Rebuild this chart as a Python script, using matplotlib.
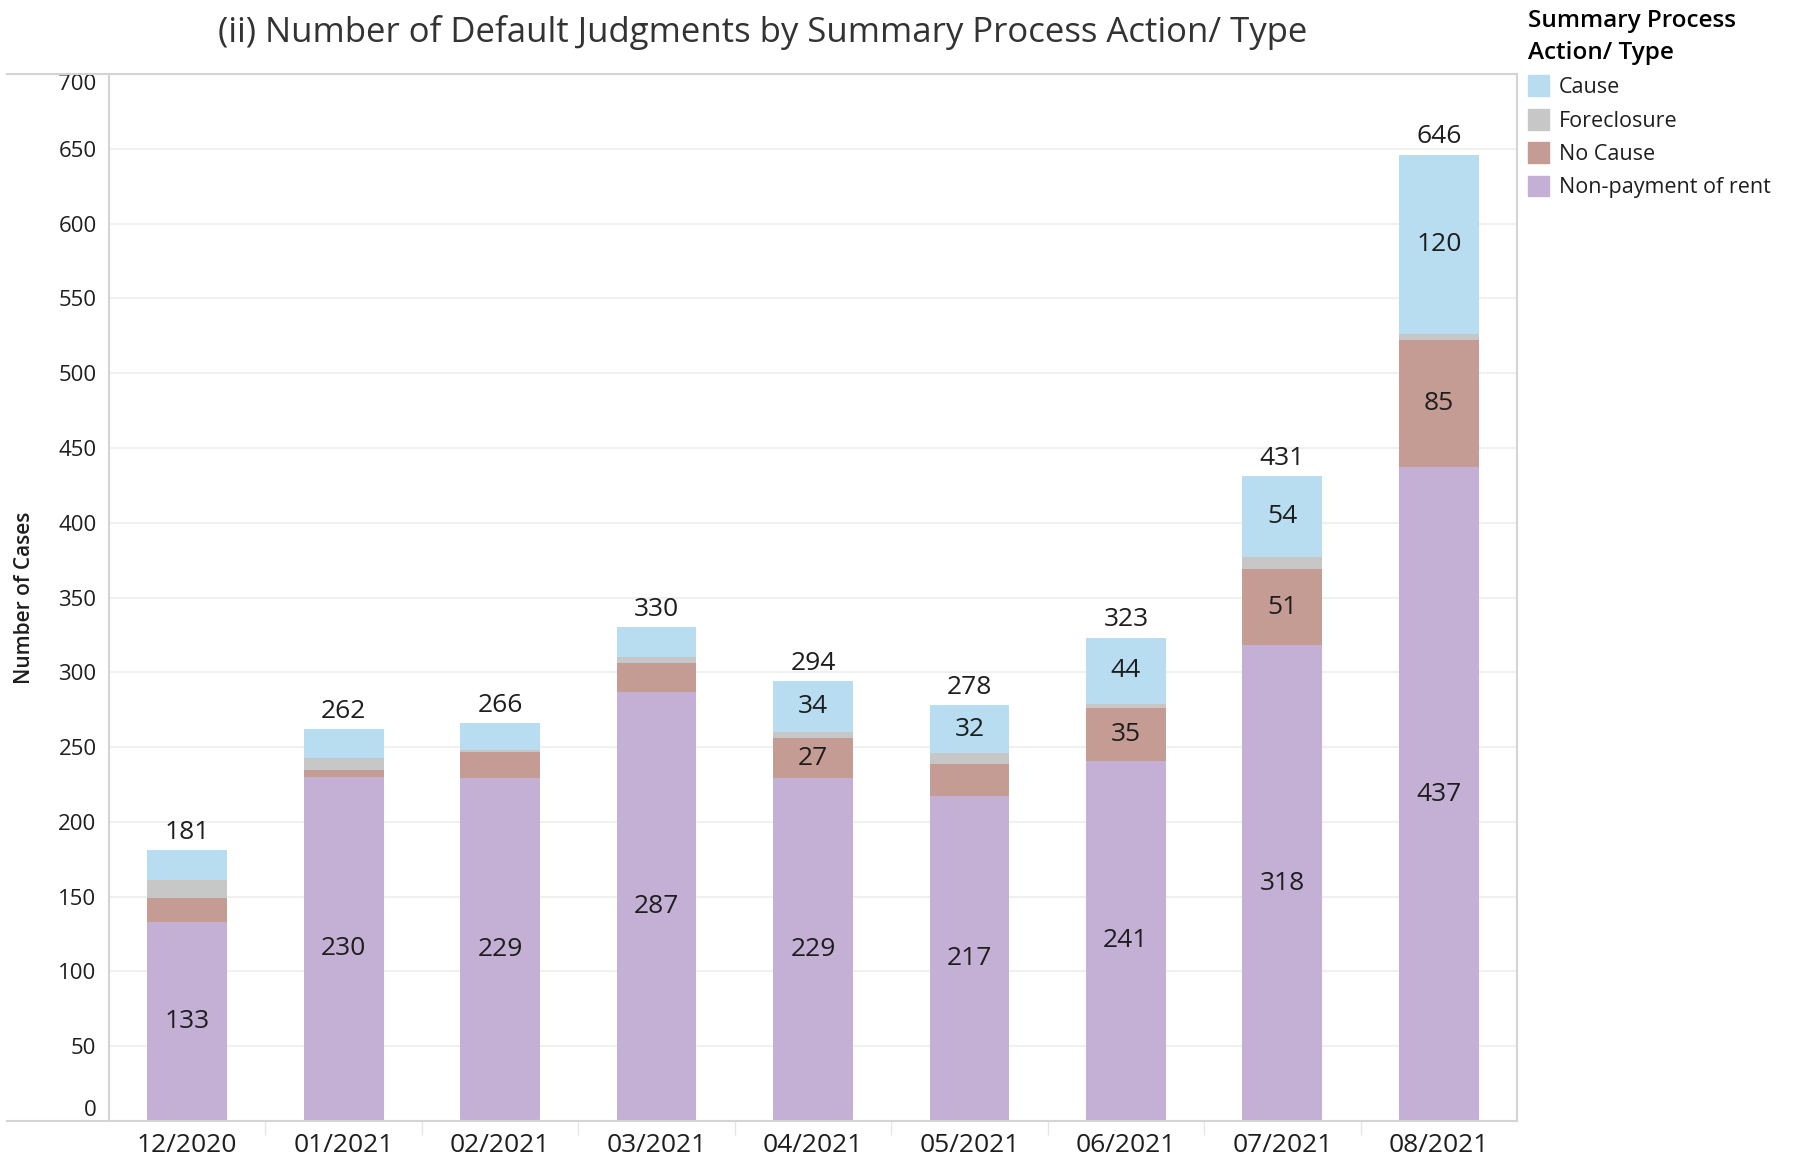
import matplotlib
matplotlib.use("Agg")
import matplotlib.pyplot as plt
from matplotlib.lines import Line2D
from matplotlib.patches import Patch
import numpy as np

months = ["12/2020", "01/2021", "02/2021", "03/2021", "04/2021",
          "05/2021", "06/2021", "07/2021", "08/2021"]

non_payment = [133, 230, 229, 287, 229, 217, 241, 318, 437]
no_cause = [16, 5, 18, 19, 27, 22, 35, 51, 85]
foreclosure = [12, 8, 1, 4, 4, 7, 3, 8, 4]
cause = [20, 19, 18, 20, 34, 32, 44, 54, 120]

series = [
	("Non-payment of rent", non_payment, "#C5B0D5"),
	("No Cause", no_cause, "#C49C94"),
	("Foreclosure", foreclosure, "#C7C7C7"),
	("Cause", cause, "#B8DDF0"),
]

plt.rcParams['font.family'] = ['Open Sans', 'DejaVu Sans']
txt = "#1E1E1E"
frame = "#D4D4D4"

W, H = 1800, 1163
fig = plt.figure(figsize=(W / 100, H / 100), dpi=100)
ax = fig.add_axes([109 / W, 1 - 1121 / H, (1517 - 109) / W, (1121 - 74) / H])

x = np.arange(len(months))
bottom = np.zeros(len(months))
for name, vals, color in series:
	vals = np.array(vals, dtype=float)
	ax.bar(x, vals, width=0.51, bottom=bottom, color=color, zorder=2)
	if name != "Foreclosure":
		for xi, b, v in zip(x, bottom, vals):
			if v >= 25:
				ax.text(xi, b + v / 2, f"{int(v)}", ha="center", va="center",
						fontsize=19, color=txt, zorder=3)
	bottom += vals

for xi, tot in zip(x, bottom):
	ax.annotate(f"{int(tot)}", (xi, tot), xytext=(0, 4), textcoords="offset points",
				ha="center", va="bottom", fontsize=19, color=txt)

ax.set_xlim(-0.5, len(months) - 0.5)
ax.set_ylim(0, 700)
ax.set_yticks(np.arange(0, 701, 50))
ax.set_xticks(x)
ax.set_xticklabels(months)
ax.set_xticks(np.arange(0.5, len(months) - 1, 1), minor=True)
ax.tick_params(axis="x", which="major", length=0, labelsize=19, labelcolor=txt, pad=9)
ax.tick_params(axis="x", which="minor", length=10, color="#E6E6E6", width=1)
ax.tick_params(axis="y", length=0, labelsize=16, labelcolor=txt, pad=9)
ylabels = ax.get_yticklabels()
ylabels[0].set_va("bottom")
ylabels[-1].set_va("top")

ax.grid(axis="y", color="#F0F0F0", linewidth=1.5, zorder=0)
ax.set_axisbelow(True)
for s in ["top", "bottom"]:
	ax.spines[s].set_visible(False)
ax.spines["left"].set_color(frame)
ax.spines["right"].set_color(frame)
ax.spines["left"].set_linewidth(1.5)
ax.spines["right"].set_linewidth(1.5)

# frame lines that run out to the left edge
fig.add_artist(Line2D([7 / W, 1517 / W], [1 - 74 / H, 1 - 74 / H], color=frame, lw=1.5))
fig.add_artist(Line2D([7 / W, 1517 / W], [1 - 1121 / H, 1 - 1121 / H], color=frame, lw=1.5))

ax.set_ylabel("Number of Cases", fontsize=15, fontweight="semibold", color=txt)
ax.yaxis.set_label_coords(-(109 - 35) / (1517 - 109), 0.5)

fig.text(763 / W, 1 - 32 / H,
		 "(ii) Number of Default Judgments by Summary Process Action/ Type",
		 ha="center", va="center", fontsize=25, color="#333333")

handles = [Patch(color=c) for _, _, c in reversed(series)]
labels = [n for n, _, _ in reversed(series)]
leg = fig.legend(handles, labels, loc="upper left", bbox_to_anchor=(1519 / W, 1.0),
				 title="Summary Process\nAction/ Type", frameon=False, fontsize=15.5,
				 title_fontsize=17.5, handlelength=1.0, handleheight=1.1,
				 handletextpad=0.45, labelspacing=0.5, alignment="left", borderaxespad=0.0)
leg.get_title().set_fontweight("semibold")
leg.get_title().set_linespacing(1.45)
for t in leg.get_texts():
	t.set_color(txt)

fig.savefig("out.png", dpi=100)
